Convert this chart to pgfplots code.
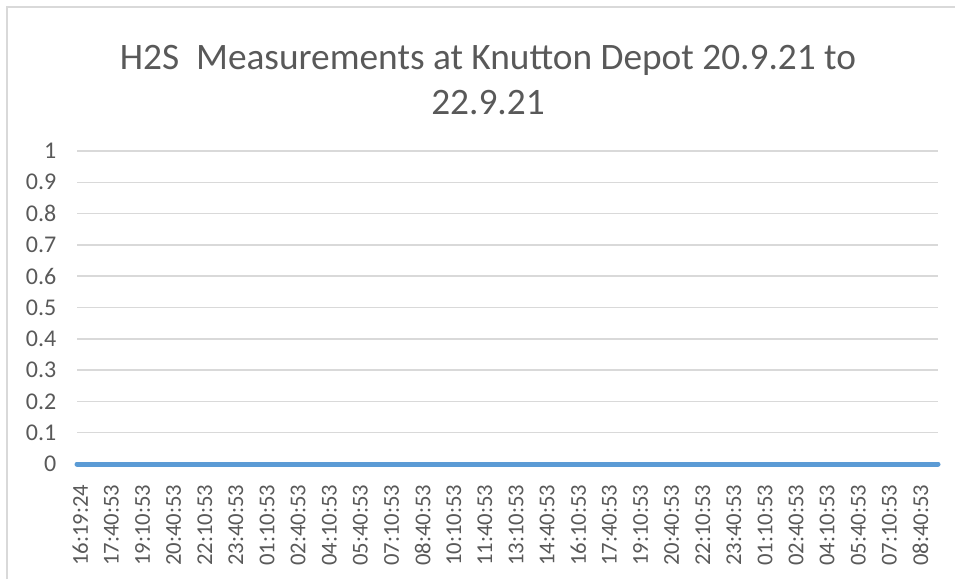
\documentclass[border=0pt]{standalone}
\usepackage{pgfplots}
\pgfplotsset{compat=1.18}
\usepackage{fontspec}
\setmainfont{Carlito}
\definecolor{txtgray}{HTML}{595959}
\definecolor{gridgray}{HTML}{D9D9D9}
\definecolor{xlblue}{HTML}{5B9BD5}
\begin{document}
\begin{tikzpicture}
\path[use as bounding box] (0,0) rectangle (716.25pt,434.25pt);
\draw[gridgray, line width=1.1pt] (5.25pt,0) -- (5.25pt,429pt) -- (716.25pt,429pt);
\node[text=txtgray, align=center, font=\fontsize{28}{33.75}\selectfont]
  at (366pt,373.9pt) {H2S\ \ Measurements at Knutton Depot 20.9.21 to\\22.9.21};
\begin{axis}[
    at={(57.75pt,86.25pt)}, anchor=south west,
    scale only axis,
    width=645.75pt, height=234.75pt,
    xmin=0, xmax=83,
    ymin=0, ymax=1,
    ytick={0,0.1,...,1.01},
    xtick={0,3,...,81},
    xticklabels={16:19:24,17:40:53,19:10:53,20:40:53,22:10:53,23:40:53,01:10:53,02:40:53,04:10:53,05:40:53,07:10:53,08:40:53,10:10:53,11:40:53,13:10:53,14:40:53,16:10:53,17:40:53,19:10:53,20:40:53,22:10:53,23:40:53,01:10:53,02:40:53,04:10:53,05:40:53,07:10:53,08:40:53},
    axis line style={draw=none},
    major tick length=0pt,
    ymajorgrids=true,
    major grid style={gridgray, line width=1.1pt},
    /pgf/number format/assume math mode=true,
    tick label style={text=txtgray},
    yticklabel style={anchor=east, xshift=-12pt, font=\fontsize{18}{21}\selectfont},
    xticklabel style={rotate=90, anchor=east, xshift=-12pt, yshift=-2.5pt, font=\fontsize{17}{20}\selectfont},
    clip=false,
]
\addplot[color=xlblue, line width=3.75pt, line cap=round] coordinates {
(0,0)(1,0)(2,0)(3,0)(4,0)(5,0)(6,0)(7,0)(8,0)(9,0)(10,0)(11,0)(12,0)(13,0)(14,0)(15,0)(16,0)(17,0)(18,0)(19,0)(20,0)
(21,0)(22,0)(23,0)(24,0)(25,0)(26,0)(27,0)(28,0)(29,0)(30,0)(31,0)(32,0)(33,0)(34,0)(35,0)(36,0)(37,0)(38,0)(39,0)(40,0)
(41,0)(42,0)(43,0)(44,0)(45,0)(46,0)(47,0)(48,0)(49,0)(50,0)(51,0)(52,0)(53,0)(54,0)(55,0)(56,0)(57,0)(58,0)(59,0)(60,0)
(61,0)(62,0)(63,0)(64,0)(65,0)(66,0)(67,0)(68,0)(69,0)(70,0)(71,0)(72,0)(73,0)(74,0)(75,0)(76,0)(77,0)(78,0)(79,0)(80,0)
(81,0)(82,0)(83,0)
};
\end{axis}
\end{tikzpicture}
\end{document}
